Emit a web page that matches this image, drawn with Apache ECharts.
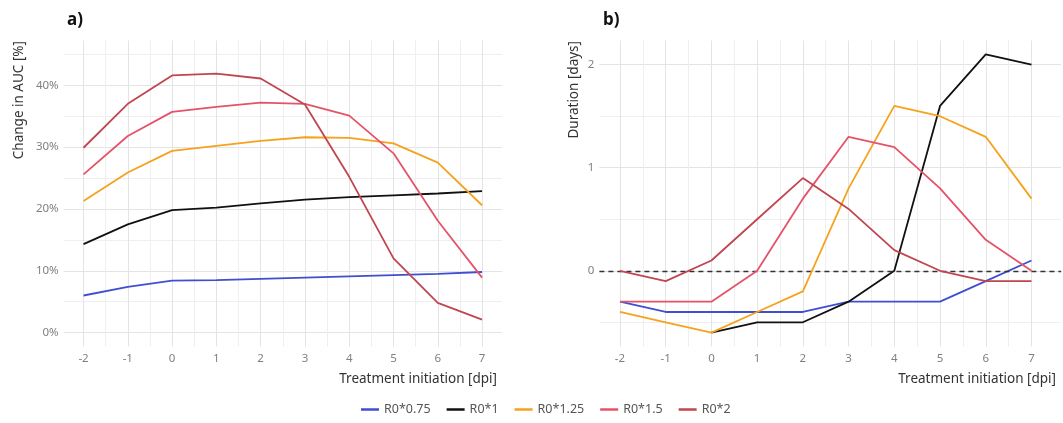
<!DOCTYPE html>
<html>
<head>
<meta charset="utf-8">
<script src="https://cdn.jsdelivr.net/npm/echarts@6/dist/echarts.min.js"></script>
<style>
    html, body { margin: 0; padding: 0; background: #fff; }
    #chart { width: 1063px; height: 423px; }
</style>
</head>
<body>
<div id="chart"></div>
<script>
// treatment initiation days (x values shared by both panels)
const dpi = [-2, -1, 0, 1, 2, 3, 4, 5, 6, 7];
const seriesNames = ['R0*0.75', 'R0*1', 'R0*1.25', 'R0*1.5', 'R0*2'];
const colors = ['#3f4fd0', '#111111', '#f5a21c', '#e4536a', '#c0464f'];

// panel a) change in AUC [%]
const aucR075 = [6.0, 7.4, 8.4, 8.5, 8.7, 8.9, 9.1, 9.3, 9.5, 9.8];
const aucR1   = [14.3, 17.5, 19.8, 20.2, 20.9, 21.5, 21.9, 22.2, 22.5, 22.9];
const aucR125 = [21.3, 25.9, 29.4, 30.2, 31.0, 31.6, 31.5, 30.6, 27.5, 20.6];
const aucR15  = [25.6, 31.8, 35.7, 36.5, 37.2, 37.0, 35.1, 29.0, 18.1, 8.9];
const aucR2   = [29.9, 37.0, 41.6, 41.9, 41.1, 36.9, 25.2, 12.0, 4.8, 2.1];

// panel b) duration [days] (R0*1 not visible before day 0)
const durR075 = [-0.3, -0.4, -0.4, -0.4, -0.4, -0.3, -0.3, -0.3, -0.1, 0.1];
const durR1   = [null, null, -0.6, -0.5, -0.5, -0.3, 0.0, 1.6, 2.1, 2.0];
const durR125 = [-0.4, -0.5, -0.6, -0.4, -0.2, 0.8, 1.6, 1.5, 1.3, 0.7];
const durR15  = [-0.3, -0.3, -0.3, 0.0, 0.7, 1.3, 1.2, 0.8, 0.3, 0.0];
const durR2   = [0.0, -0.1, 0.1, 0.5, 0.9, 0.6, 0.2, 0.0, -0.1, -0.1];

// tick labels / grid positions
const xTicks = [-2, -1, 0, 1, 2, 3, 4, 5, 6, 7];
const xMinor = [-1.5, -0.5, 0.5, 1.5, 2.5, 3.5, 4.5, 5.5, 6.5];
const aucTicks = [0, 10, 20, 30, 40];
const aucMinor = [5, 15, 25, 35, 45];
const durTicks = [0, 1, 2];
const durMinor = [-0.5, 0.5, 1.5];

const aucData = [aucR075, aucR1, aucR125, aucR15, aucR2];
const durData = [durR075, durR1, durR125, durR15, durR2];

const FONT = 'Noto Sans';
const majorColor = '#e4e4e4';
const minorColor = '#efefef';

const chart = echarts.init(document.getElementById('chart'), null, { renderer: 'canvas' });

function pairs(values) {
    return dpi.map((d, i) => [d, values[i]]);
}

function majorX(gridIndex, max) {
    return {
        type: 'value', gridIndex: gridIndex, min: -2.45, max: max,
        axisLine: { show: false }, axisTick: { show: false, customValues: xTicks },
        axisLabel: { customValues: xTicks, color: '#808080', fontSize: 11.5, fontFamily: FONT, margin: 6 },
        splitLine: { show: true, lineStyle: { color: majorColor, width: 1 } }
    };
}

function minorX(gridIndex, max) {
    return {
        type: 'value', gridIndex: gridIndex, min: -2.45, max: max,
        axisLine: { show: false }, axisTick: { show: false, customValues: xMinor },
        axisLabel: { show: false, customValues: xMinor },
        splitLine: { show: true, lineStyle: { color: minorColor, width: 1 } }
    };
}

function majorY(gridIndex, min, max, ticks, fmt) {
    return {
        type: 'value', gridIndex: gridIndex, min: min, max: max,
        axisLine: { show: false }, axisTick: { show: false, customValues: ticks },
        axisLabel: { customValues: ticks, color: '#808080', fontSize: 11.5, fontFamily: FONT, margin: 5, formatter: fmt },
        splitLine: { show: true, lineStyle: { color: majorColor, width: 1 } }
    };
}

function minorY(gridIndex, min, max, ticks) {
    return {
        type: 'value', gridIndex: gridIndex, min: min, max: max,
        axisLine: { show: false }, axisTick: { show: false, customValues: ticks },
        axisLabel: { show: false, customValues: ticks },
        splitLine: { show: true, lineStyle: { color: minorColor, width: 1 } }
    };
}

const series = [];
aucData.forEach((vals, i) => {
    series.push({
        name: seriesNames[i], type: 'line', xAxisIndex: 0, yAxisIndex: 0,
        data: pairs(vals), showSymbol: false, symbol: 'none',
        lineStyle: { color: colors[i], width: 1.8 }, itemStyle: { color: colors[i] },
        z: 3 + i, animation: false
    });
});
durData.forEach((vals, i) => {
    const s = {
        name: seriesNames[i], type: 'line', xAxisIndex: 2, yAxisIndex: 2,
        data: pairs(vals), showSymbol: false, symbol: 'none',
        lineStyle: { color: colors[i], width: 1.8 }, itemStyle: { color: colors[i] },
        z: 3 + i, animation: false
    };
    if (i === 0) {
        s.markLine = {
            silent: true, symbol: 'none', label: { show: false }, animation: false,
            lineStyle: { color: '#333', type: [5, 4], width: 1.3 },
            data: [{ yAxis: 0 }]
        };
    }
    series.push(s);
});

chart.setOption({
    backgroundColor: '#fff',
    animation: false,
    textStyle: { fontFamily: FONT },
    grid: [
        { left: 63.6, top: 40.5, width: 438.4, height: 306 },
        { left: 599.4, top: 40.5, width: 461.8, height: 306 }
    ],
    xAxis: [
        majorX(0, 7.45), minorX(0, 7.45),
        majorX(1, 7.65), minorX(1, 7.65)
    ],
    yAxis: [
        majorY(0, -2.25, 47.25, aucTicks, v => v + '%'), minorY(0, -2.25, 47.25, aucMinor),
        majorY(1, -0.735, 2.235, durTicks, v => String(v)), minorY(1, -0.735, 2.235, durMinor)
    ],
    title: [
        { text: 'a)', left: 62, top: 7, textStyle: { fontSize: 17, fontWeight: 'bold', color: '#111', fontFamily: FONT } },
        { text: 'b)', left: 598, top: 7, textStyle: { fontSize: 17, fontWeight: 'bold', color: '#111', fontFamily: FONT } },
        { text: 'Treatment initiation [dpi]', right: 561, top: 367, textStyle: { fontSize: 13.5, fontWeight: 'normal', color: '#333', fontFamily: FONT } },
        { text: 'Treatment initiation [dpi]', right: 2, top: 367, textStyle: { fontSize: 13.5, fontWeight: 'normal', color: '#333', fontFamily: FONT } }
    ],
    graphic: [
        { type: 'text', x: 19, y: 41, rotation: Math.PI / 2,
          style: { text: 'Change in AUC [%]', align: 'right', verticalAlign: 'middle', fontSize: 13.5, fill: '#333', fontFamily: FONT } },
        { type: 'text', x: 574, y: 41, rotation: Math.PI / 2,
          style: { text: 'Duration [days]', align: 'right', verticalAlign: 'middle', fontSize: 13.5, fill: '#333', fontFamily: FONT } }
    ],
    legend: {
        data: seriesNames, bottom: 2, left: 356,
        icon: 'rect', itemWidth: 18, itemHeight: 2.5, itemGap: 16,
        textStyle: { color: '#555', fontSize: 12.5, fontFamily: FONT }
    },
    series: series
});
</script>
</body>
</html>
